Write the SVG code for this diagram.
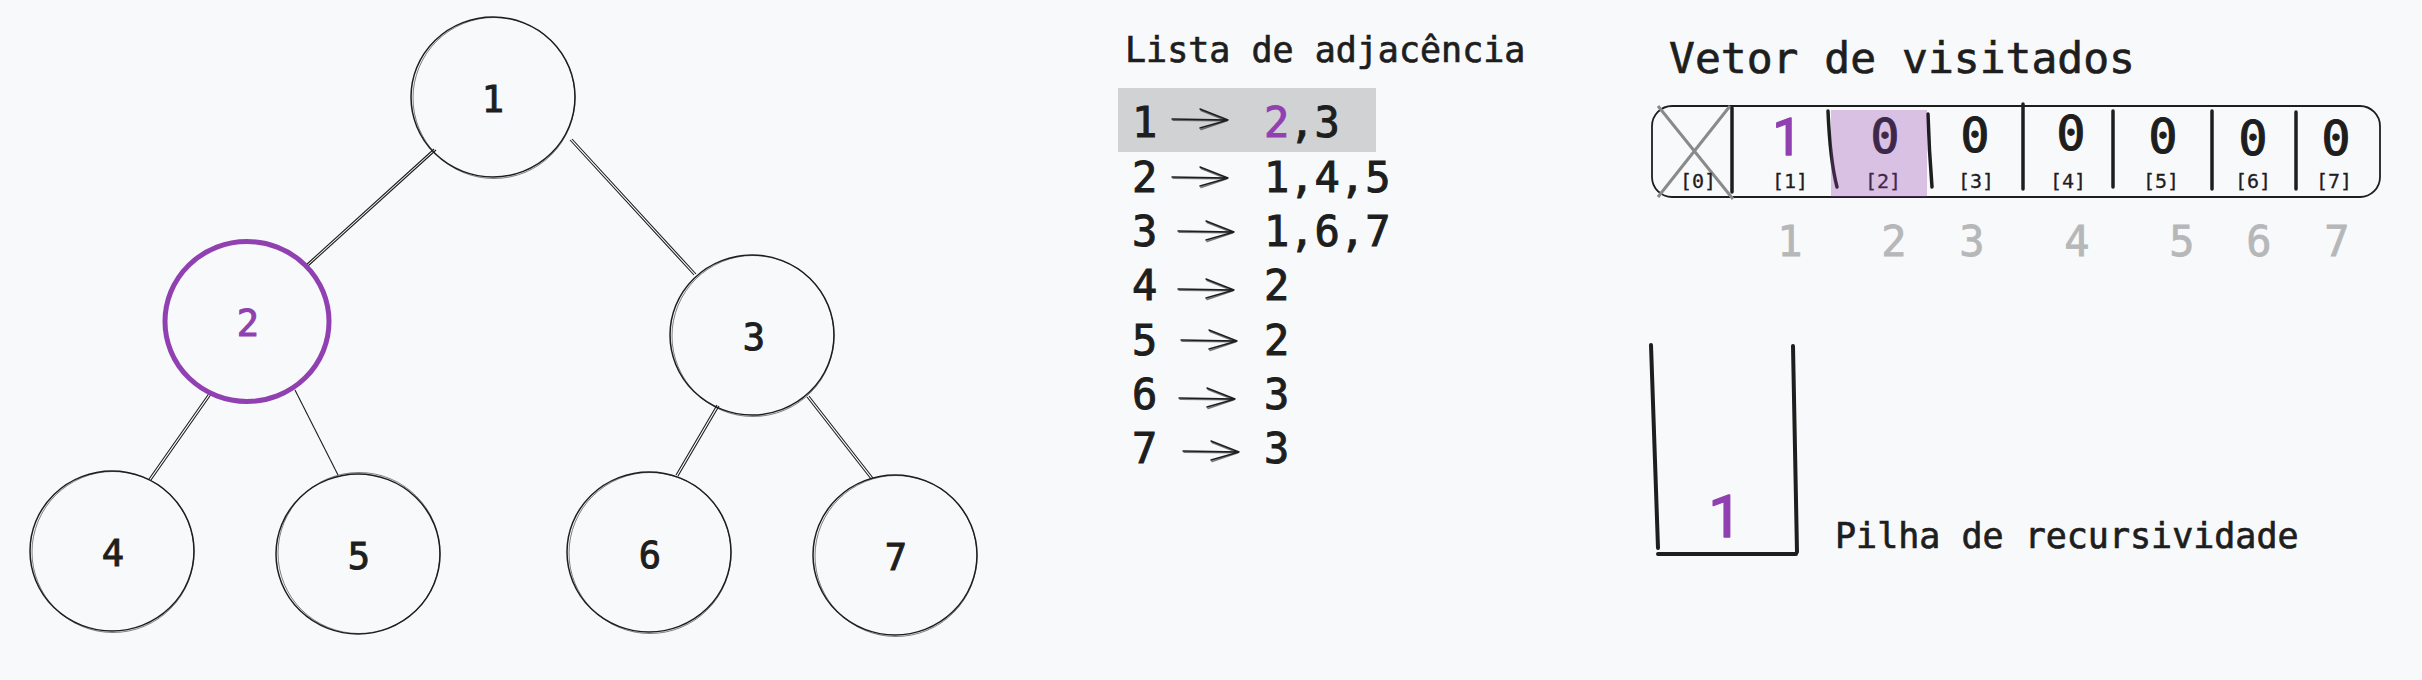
<svg xmlns="http://www.w3.org/2000/svg" xmlns:xlink="http://www.w3.org/1999/xlink" width="2422" height="680" viewBox="0 0 2422 680">
<style>
.bg{fill:#f8f9fa}
.circ{fill:none;stroke:#1e1e1e;stroke-width:1.5}
.circ2{fill:none;stroke:#1e1e1e;stroke-width:1;opacity:.55}
.edge{stroke:#1e1e1e;stroke-width:1.1;fill:none}
.lbl{font-family:"DejaVu Sans Mono","Liberation Mono",monospace;font-size:37px;fill:#1e1e1e;stroke:#1e1e1e;stroke-width:1;text-anchor:middle}
.mono{font-family:"DejaVu Sans Mono","Liberation Mono",monospace;fill:#1e1e1e;stroke:#1e1e1e;stroke-width:0.7}
.title{font-size:35px}
.big{font-size:43px}
.row{font-size:42px;stroke-width:1}
.val{font-size:48px;text-anchor:middle;stroke-width:1.2}
.idx{font-size:20px;text-anchor:middle;stroke-width:0.3}
.gray{font-size:42px;text-anchor:middle;fill:#b6b7b9;stroke:#b6b7b9;stroke-width:0.8}
.purple{fill:#9040b0;stroke:#9040b0}
.hand{font-family:Roboto,"Open Sans",sans-serif;font-weight:normal;fill:#9040b0;stroke:#9040b0;stroke-width:1.5;stroke-linejoin:round;text-anchor:middle}
.div{stroke:#1e1e1e;stroke-width:3.5;stroke-linecap:round;fill:none}
.arr{stroke:#1e1e1e;stroke-width:1.4;fill:none;stroke-linecap:round;stroke-linejoin:round}
</style>
<defs>
<g id="arrow">
<path class="arr" d="M0 0 L56 1 M28 -10 L56 1 L28 9"/>
<path class="arr" d="M1 1.3 L55 1.8 M29 -8.5 L55 1.8 L29 10.5" opacity="0.6"/>
</g>
</defs>
<rect class="bg" x="0" y="0" width="2422" height="680"/>

<g id="connectors">
<path class="edge" d="M434 149 L306 265 M436 150 L308 266"/>
<path class="edge" d="M570 140 L694 275 M572 139 L696 274"/>
<path class="edge" d="M210 392 L149 479 M212 393 L151 480"/>
<path class="edge" d="M295 390 L338 475"/>
<path class="edge" d="M717 405 L676 475 M719 406 L678 476"/>
<path class="edge" d="M807 397 L871 479 M809 396 L873 478"/>
</g>

<g id="node1">
<ellipse class="circ" cx="493" cy="97" rx="82" ry="80"/>
<ellipse class="circ2" cx="494" cy="98" rx="81" ry="80.5"/>
<text class="lbl" x="493" y="112">1</text>
</g>
<g id="node2">
<ellipse cx="247" cy="321.5" rx="82" ry="80" fill="none" stroke="#9040b0" stroke-width="5"/>
<text class="lbl purple" x="248" y="336">2</text>
</g>
<g id="node3">
<ellipse class="circ" cx="752" cy="335" rx="82" ry="80"/>
<ellipse class="circ2" cx="753" cy="336" rx="81" ry="80.5"/>
<text class="lbl" x="754" y="350">3</text>
</g>
<g id="node4">
<ellipse class="circ" cx="112" cy="551" rx="82" ry="80"/>
<ellipse class="circ2" cx="113" cy="552" rx="81" ry="80.5"/>
<text class="lbl" x="113" y="566">4</text>
</g>
<g id="node5">
<ellipse class="circ" cx="358" cy="554" rx="82" ry="80"/>
<ellipse class="circ2" cx="359" cy="553" rx="81" ry="80.5"/>
<text class="lbl" x="359" y="569">5</text>
</g>
<g id="node6">
<ellipse class="circ" cx="649" cy="552" rx="82" ry="80"/>
<ellipse class="circ2" cx="650" cy="553" rx="81" ry="80.5"/>
<text class="lbl" x="650" y="568">6</text>
</g>
<g id="node7">
<ellipse class="circ" cx="895" cy="555" rx="82" ry="80"/>
<ellipse class="circ2" cx="896" cy="556" rx="81" ry="80.5"/>
<text class="lbl" x="896" y="570">7</text>
</g>

<g id="adjacency-list">
<text class="mono title" x="1125" y="62">Lista de adjacência</text>
<rect x="1118" y="88" width="258" height="64" fill="#d1d2d4"/>
<text class="mono row" x="1132" y="137">1</text>
<text class="mono row" x="1264" y="137"><tspan class="purple">2</tspan>,3</text>
<use xlink:href="#arrow" href="#arrow" transform="translate(1172 119)"/>
<text class="mono row" x="1132" y="192">2</text>
<text class="mono row" x="1264" y="192">1,4,5</text>
<use xlink:href="#arrow" href="#arrow" transform="translate(1172 177)"/>
<text class="mono row" x="1132" y="246">3</text>
<text class="mono row" x="1264" y="246">1,6,7</text>
<use xlink:href="#arrow" href="#arrow" transform="translate(1178 231)"/>
<text class="mono row" x="1132" y="300">4</text>
<text class="mono row" x="1264" y="300">2</text>
<use xlink:href="#arrow" href="#arrow" transform="translate(1178 289)"/>
<text class="mono row" x="1132" y="355">5</text>
<text class="mono row" x="1264" y="355">2</text>
<use xlink:href="#arrow" href="#arrow" transform="translate(1181 340)"/>
<text class="mono row" x="1132" y="409">6</text>
<text class="mono row" x="1264" y="409">3</text>
<use xlink:href="#arrow" href="#arrow" transform="translate(1179 398)"/>
<text class="mono row" x="1132" y="463">7</text>
<text class="mono row" x="1264" y="463">3</text>
<use xlink:href="#arrow" href="#arrow" transform="translate(1183 451)"/>
</g>

<g id="visited-vector">
<text class="mono big" x="1669" y="73">Vetor de visitados</text>
<rect x="1652" y="106" width="728" height="91" rx="20" ry="20" fill="none" stroke="#1e1e1e" stroke-width="1.8"/>
<path d="M1658 106 L1733 199 M1730 106 L1658 197" stroke="#8a8a8a" stroke-width="3" fill="none"/>
<path class="div" d="M1732 108 L1732 192"/>
<path class="div" d="M1828 111 Q1830 160 1837 187"/>
<path class="div" d="M1928 114 Q1929 150 1932 187"/>
<path class="div" d="M2023 104 L2023 189"/>
<path class="div" d="M2113 111 L2113 187"/>
<path class="div" d="M2212 111 L2212 189"/>
<path class="div" d="M2296 112 L2296 189"/>
<text class="hand" x="1787" y="155" font-size="52">1</text>
<text class="mono val" x="1885" y="153">0</text>
<text class="mono val" x="1975" y="152">0</text>
<text class="mono val" x="2071" y="150">0</text>
<text class="mono val" x="2163" y="153">0</text>
<text class="mono val" x="2253" y="155">0</text>
<text class="mono val" x="2336" y="155">0</text>
<text class="mono idx" x="1698" y="188">[0]</text>
<text class="mono idx" x="1790" y="188">[1]</text>
<text class="mono idx" x="1883" y="188">[2]</text>
<text class="mono idx" x="1976" y="188">[3]</text>
<text class="mono idx" x="2068" y="188">[4]</text>
<text class="mono idx" x="2161" y="188">[5]</text>
<text class="mono idx" x="2253" y="188">[6]</text>
<text class="mono idx" x="2334" y="188">[7]</text>
<rect x="1831" y="110" width="96" height="87" fill="#9040b0" opacity="0.3"/>
<text class="mono gray" x="1790" y="256">1</text>
<text class="mono gray" x="1894" y="256">2</text>
<text class="mono gray" x="1972" y="256">3</text>
<text class="mono gray" x="2077" y="256">4</text>
<text class="mono gray" x="2182" y="256">5</text>
<text class="mono gray" x="2259" y="256">6</text>
<text class="mono gray" x="2337" y="256">7</text>
</g>

<g id="stack">
<path d="M1651 345 L1658 548 M1793 346 L1797 552 M1658 554 L1796 554" stroke="#1e1e1e" stroke-width="4" stroke-linecap="round" fill="none"/>
<text class="hand" x="1725" y="537" font-size="60">1</text>
<text class="mono title" x="1835" y="548">Pilha de recursividade</text>
</g>
</svg>
